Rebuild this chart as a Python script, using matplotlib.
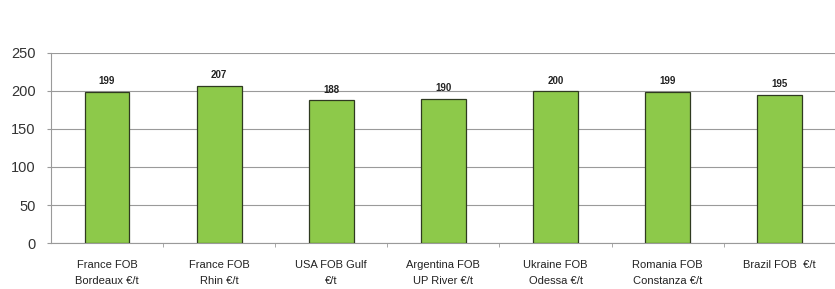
import matplotlib.pyplot as plt
import numpy as np

plt.rcParams['font.family'] = ['Liberation Sans', 'DejaVu Sans']

categories = ["France FOB\nBordeaux €/t", "France FOB\nRhin €/t", "USA FOB Gulf\n€/t",
              "Argentina FOB\nUP River €/t", "Ukraine FOB\nOdessa €/t",
              "Romania FOB\nConstanza €/t", "Brazil FOB  €/t"]
prices = [199, 207, 188, 190, 200, 199, 195]
y_ticks = [0, 50, 100, 150, 200, 250]

fig = plt.figure(figsize=(8.35, 2.89), dpi=100)
ax = fig.add_axes([0.061, 0.159, 0.94, 0.658])

x = np.arange(len(categories))
ax.bar(x, prices, width=0.4, color="#8DC94A", edgecolor="#2f3a20", linewidth=0.9, zorder=3)
for xi, v in zip(x, prices):
    ax.text(xi, v + 7, str(v), ha="center", va="bottom", fontsize=7,
            fontweight="bold", color="#222222")

ax.set_xlim(-0.5, len(categories) - 0.5)
ax.set_ylim(0, 250)
ax.set_yticks(y_ticks)
ax.set_yticklabels([str(t) for t in y_ticks], fontsize=10.5, color="#333333")
ax.yaxis.grid(True, color="#9a9a9a", linewidth=0.8, zorder=0)

ax.set_xticks(x)
ax.set_xticklabels(categories, fontsize=8, color="#222222", linespacing=1.7)
ax.set_xticks(np.arange(len(categories)) + 0.5, minor=True)
ax.tick_params(axis="x", which="major", length=0, pad=12.5)
ax.tick_params(axis="x", which="minor", length=3, color="#9a9a9a")
ax.tick_params(axis="y", length=3, color="#9a9a9a", pad=8)

for side in ("top", "right"):
    ax.spines[side].set_visible(False)
ax.spines["left"].set_color("#9a9a9a")
ax.spines["bottom"].set_color("#9a9a9a")

fig.savefig("out.png", dpi=100)
